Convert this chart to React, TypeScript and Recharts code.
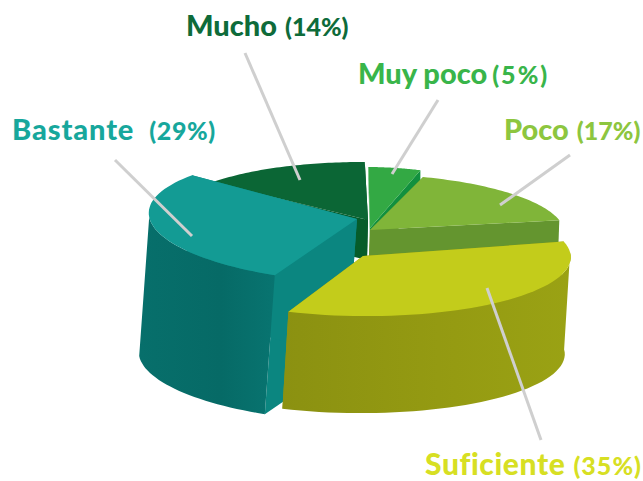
import React from 'react';
import { PieChart, Pie } from 'recharts';

// pie order is clockwise from Mucho, the first slice that gets painted
const categories = ['Mucho', 'Muy poco', 'Poco', 'Suficiente', 'Bastante'];
const shares = [14, 5, 17, 35, 29];

const data = categories.map((name, i) => ({ name, value: shares[i] }));

const W = 643, H = 481, R = 200;
const PIE_X = 363, PIE_Y = 240;

// every wedge is its own tilted, pulled out ellipse; the source is a 3D render
// ox/oy: apex offset, sx/sy: axis scale, kx/ky: skew, dx/dy: extrusion
const LOOK: Record<string, any> = {
  'Mucho':      { ox: 5, oy: -20, sx: 1, sy: 0.29, kx: -6, ky: 0, dx: -1, dy: 40, top: '#0b6635', wall: '#065c2a', cut: '#065c2a' },
  'Muy poco':   { ox: 7, oy: -12, sx: 0.84, sy: 0.305, kx: -4, ky: 0, dx: 0, dy: 11, top: '#33a944', wall: '#11903e', cut: '#11903e' },
  'Poco':       { ox: 7, oy: -10, sx: 0.97, sy: 0.28, kx: -10, ky: 0, dx: -1, dy: 28, top: '#80b539', wall: '#64952f', cut: '#64952f' },
  'Suficiente': { ox: 0, oy: 16, sx: 1.035, sy: 0.3, kx: -18, ky: -4, dx: -6, dy: 97, top: '#c3cc1b', wall: 'url(#wallLime)', cut: '#8e9412' },
  'Bastante':   { ox: -6, oy: -21, sx: 1.04, sy: 0.32, kx: -10, ky: 3, dx: -10, dy: 139, top: '#139b94', wall: 'url(#wallTeal)', cut: '#0b8680' },
};

const LABELS: Record<string, any> = {
  'Mucho':      { x: 186, y: 36, color: '#0e6b3a', gap: 8, size: 29, ls: 0, pctLs: 0, line: [245, 53, 300, 180] },
  'Muy poco':   { x: 358, y: 84, color: '#39b54a', gap: 5, size: 29, ls: 0, pctLs: 2, line: [438, 100, 392, 174] },
  'Poco':       { x: 504, y: 140, color: '#8dc63f', gap: 8, size: 29, ls: 0, pctLs: 0, line: [570, 155, 500, 205] },
  'Bastante':   { x: 12, y: 140, color: '#17a79c', gap: 15, size: 29, ls: 0.9, pctLs: 0.6, line: [115, 160, 192, 236] },
  'Suficiente': { x: 425, y: 475, color: '#d7df23', gap: 8, size: 30, ls: 0.6, pctLs: 1, line: [487, 288, 541, 440] },
};

function project(look: any, angle: number, r: number, depth = 0) {
  const a = (angle * Math.PI) / 180;
  const u = r / R;
  const x = PIE_X + look.ox + r * look.sx * Math.cos(a) + look.kx * u * Math.sin(a) + look.dx * depth;
  const y = PIE_Y + look.oy - r * look.sy * Math.sin(a) + look.ky * u * Math.cos(a) + look.dy * depth;
  return [x, y];
}

function toPath(pts: number[][]) {
  return pts.map((p, i) => `${i ? 'L' : 'M'}${p[0].toFixed(1)} ${p[1].toFixed(1)}`).join(' ') + ' Z';
}

function Wedge(props: any) {
  const { startAngle, endAngle, outerRadius: r, name } = props;
  const look = LOOK[name];
  const steps = 48;
  const top: number[][] = [], wallTop: number[][] = [], wallLow: number[][] = [];
  for (let i = 0; i <= steps; i++) {
    const ang = startAngle + ((endAngle - startAngle) * i) / steps;
    top.push(project(look, ang, r));
    // only the front half of the rim is ever seen
    if (Math.sin((ang * Math.PI) / 180) <= 0.02) {
      wallTop.push(project(look, ang, r));
      wallLow.push(project(look, ang, r, 1));
    }
  }
  const apex = project(look, 0, 0);
  const apexLow = project(look, 0, 0, 1);
  const first = project(look, startAngle, r, 1);
  const last = project(look, endAngle, r, 1);
  return (
    <g>
      <path d={toPath([apex, apexLow, first, top[0]])} fill={look.cut} />
      <path d={toPath([apex, apexLow, last, top[steps]])} fill={look.cut} />
      {wallTop.length > 1 && <path d={toPath([...wallTop, ...wallLow.reverse()])} fill={look.wall} />}
      <path d={toPath([apex, ...top])} fill={look.top} />
    </g>
  );
}

// Suficiente sits in front of Bastante, so it gets a second pass on top
const backSlices = (props: any) => (props.name === 'Suficiente' ? <g /> : <Wedge {...props} />);
const frontSlice = (props: any) => (props.name === 'Suficiente' ? <Wedge {...props} /> : <g />);

// leaders have to cross the wedges, pie labels are painted after them
function SliceLabel(props: any) {
  const l = LABELS[props.name];
  return (
    <g>
      <line x1={l.line[0]} y1={l.line[1]} x2={l.line[2]} y2={l.line[3]} stroke="#cfcfcf" strokeWidth={3} />
      <text x={l.x} y={l.y} fill={l.color} fontFamily="Lato" fontWeight={900} fontSize={l.size}
        letterSpacing={l.ls} style={{ fontVariantLigatures: 'none' }}>
        {props.name}
        <tspan dx={l.gap} fontSize={25} letterSpacing={l.pctLs}>({props.value}%)</tspan>
      </text>
    </g>
  );
}

export default function App() {
  return (
    <div style={{ position: 'absolute', left: 0, top: 0, width: W, height: H, background: '#fff' }}>
      <PieChart width={W} height={H} margin={{ top: 0, right: 0, bottom: 0, left: 0 }}>
        <defs>
          <linearGradient id="wallTeal" x1="0" y1="0" x2="1" y2="0">
            <stop offset="0%" stopColor="#076f6b" />
            <stop offset="60%" stopColor="#066a66" />
            <stop offset="100%" stopColor="#087470" />
          </linearGradient>
          <linearGradient id="wallLime" x1="0" y1="0" x2="1" y2="0">
            <stop offset="0%" stopColor="#8b9111" />
            <stop offset="60%" stopColor="#959b12" />
            <stop offset="100%" stopColor="#9aa214" />
          </linearGradient>
        </defs>
        <Pie data={data} dataKey="value" nameKey="name" cx={PIE_X} cy={PIE_Y} innerRadius={0} outerRadius={R}
          startAngle={139.6} endAngle={-220.4} stroke="none" shape={backSlices} isAnimationActive={false} />
        <Pie data={data} dataKey="value" nameKey="name" cx={PIE_X} cy={PIE_Y} innerRadius={0} outerRadius={R}
          startAngle={139.6} endAngle={-220.4} stroke="none" shape={frontSlice} isAnimationActive={false}
          label={(p: any) => <SliceLabel {...p} />} labelLine={false} />
      </PieChart>
    </div>
  );
}
